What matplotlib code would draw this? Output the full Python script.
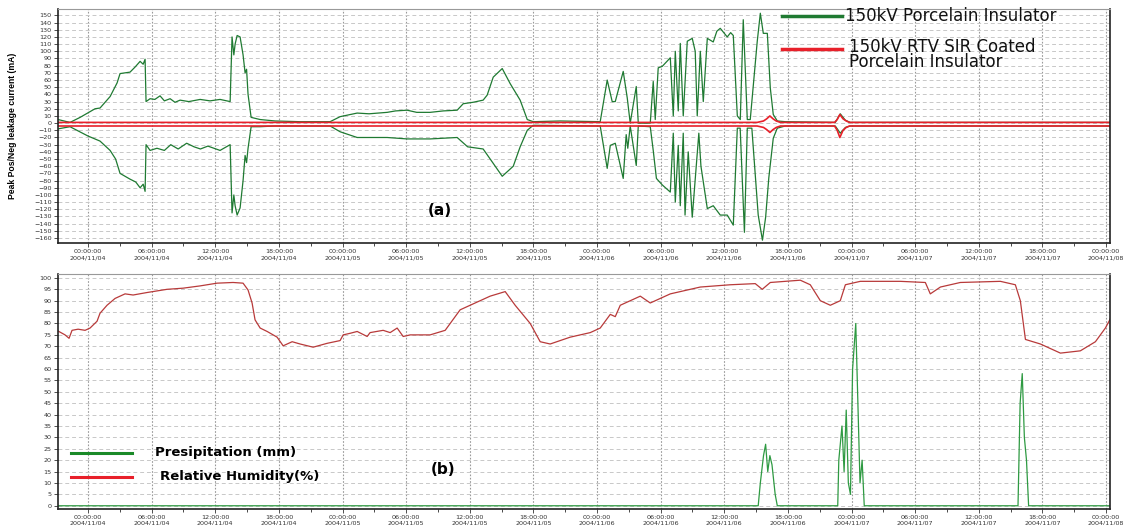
import matplotlib
matplotlib.use("Agg")
import matplotlib.pyplot as plt
import numpy as np
import pandas as pd
from matplotlib.ticker import MultipleLocator, FuncFormatter

# time in hours after 2004/11/04 00:00:00
start = pd.Timestamp("2004-11-04 00:00:00")

# (a) peak leakage current, 150kV porcelain insulator (mA)
t_por_pos = [-2.83, -1.7, -0.75, 0.66, 1.13, 2.08, 2.74, 3.02, 3.96, 4.43, 4.91, 5.2, 5.38, 5.47,
             5.85, 6.3, 6.79, 7.2, 7.74, 8.2, 8.68, 9.5, 10.57, 11.5, 12.45, 13.4, 13.58, 13.75,
             13.87, 14.06, 14.34, 14.62, 14.81, 14.95, 15.09, 15.38, 16.23, 17.64, 20.0, 22.83,
             23.77, 25.38, 26.5, 28.21, 29.0, 30.09, 31.0, 32.26, 33.5, 34.81, 35.38, 36.3, 37.26,
             37.64, 38.21, 39.06, 39.81, 40.75, 41.42, 41.98, 44.53, 48.3, 48.96, 49.43, 49.72,
             50.47, 50.85, 51.13, 51.7, 51.89, 53.02, 53.3, 53.49, 53.77, 54.15, 54.91, 55.19,
             55.38, 55.66, 55.85, 56.13, 56.51, 56.98, 57.26, 57.45, 57.74, 58.02, 58.4, 58.96,
             59.3, 59.62, 60.28, 60.6, 60.85, 61.23, 61.51, 61.79, 62.17, 62.45, 63.11, 63.4,
             63.68, 64.06, 64.34, 64.62, 65.0, 65.75, 70.47, 70.94, 71.42, 71.89, 96.4]
por_pos = [5, 1, 8, 20, 21, 37, 56, 69, 71, 78, 86, 82, 89, 30,
           34, 33, 38, 31, 34, 29, 32, 30, 33, 31, 33, 30, 120, 95,
           110, 122, 120, 95, 70, 75, 40, 8, 5, 3, 2, 2,
           9, 14, 13, 15, 17, 18, 15, 15, 17, 18, 27, 29, 32,
           39, 64, 76, 55, 32, 5, 2, 3, 2, 60, 30, 30,
           72, 35, 0, 51, 0, 0, 58, 5, 77, 79, 91, 10,
           100, 17, 111, 10, 114, 118, 100, 10, 100, 30, 118, 113,
           128, 132, 120, 126, 122, 10, 5, 144, 5, 5, 114, 153,
           125, 125, 49, 12, 3, 2, 1, 13, 4, 1, 1]

t_por_neg = [-2.83, -1.7, 0.0, 1.13, 2.08, 2.6, 3.02, 3.96, 4.5, 4.91, 5.2, 5.38, 5.47, 5.85,
             6.5, 7.2, 7.8, 8.5, 9.3, 10.0, 10.6, 11.3, 12.45, 13.4, 13.58, 13.75, 13.87, 14.06,
             14.34, 14.62, 14.81, 14.95, 15.09, 15.38, 16.23, 17.64, 22.83, 23.77, 25.38, 28.21,
             30.09, 32.26, 34.81, 35.8, 37.26, 38.21, 39.06, 40.1, 40.75, 41.42, 41.98, 48.3,
             48.96, 49.25, 49.72, 50.47, 50.75, 50.9, 51.13, 51.7, 51.89, 53.02, 53.3, 53.6,
             54.15, 54.91, 55.19, 55.38, 55.66, 55.85, 56.13, 56.3, 56.6, 56.98, 57.6, 57.8,
             58.4, 58.96, 59.62, 60.28, 60.85, 61.23, 61.5, 61.9, 62.17, 62.6, 63.2, 63.6, 63.9,
             64.2, 64.62, 65.0, 65.75, 70.47, 70.94, 71.42, 71.89, 96.4]
por_neg = [-8, -5, -18, -25, -38, -50, -70, -78, -82, -90, -85, -95, -30, -38,
           -35, -38, -30, -36, -28, -33, -36, -32, -38, -30, -125, -100, -115, -128,
           -118, -80, -45, -55, -35, -5, -5, -4, -4, -12, -20, -20,
           -22, -22, -20, -33, -36, -56, -74, -60, -33, -10, -3, -4,
           -63, -31, -28, -77, -16, -35, -4, -59, -4, -5, -38, -77,
           -86, -96, -14, -110, -31, -115, -14, -128, -40, -131, -14, -60,
           -119, -115, -128, -128, -142, -7, -7, -152, -7, -7, -128, -163, -131,
           -76, -21, -7, -4, -4, -14, -6, -4, -4]

# (a) 150kV RTV SIR coated porcelain insulator
t_rtv = [-2.83, 63.1, 63.7, 64.0, 64.3, 64.6, 64.9, 65.3, 70.4, 70.65, 70.9, 71.2, 71.5, 71.8, 96.4]
rtv_pos = [1, 1, 3, 6, 10, 6, 3, 1, 1, 5, 12, 6, 3, 1, 1]
rtv_neg = [-4, -4, -6, -9, -13, -9, -6, -4, -4, -10, -20, -10, -6, -4, -4]

# (b) relative humidity (%)
t_rh = [-2.83, -2.17, -1.79, -1.51, -0.94, -0.28, 0.19, 0.85, 1.13, 1.79, 2.55, 3.49, 4.25, 5.57,
        7.45, 8.96, 10.57, 12.17, 13.68, 14.62, 15.09, 15.47, 15.75, 16.23, 16.89, 17.83, 18.4,
        19.25, 20.0, 21.23, 22.55, 23.77, 24.06, 24.72, 25.38, 26.32, 26.6, 27.83, 28.49, 29.15,
        29.72, 30.38, 32.26, 33.68, 35.09, 37.92, 39.34, 40.28, 41.7, 42.64, 43.58, 45.47, 47.36,
        48.3, 49.25, 49.72, 50.19, 52.08, 53.02, 54.91, 57.74, 60.57, 62.92, 63.58, 64.34, 67.17,
        68.11, 69.06, 70.0, 70.94, 71.42, 72.83, 76.6, 78.96, 79.43, 80.38, 82.26, 86.04, 87.45,
        87.92, 88.4, 89.81, 91.7, 93.58, 95.0, 95.94, 96.4]
rh = [76.7, 75, 73.5, 77, 77.5, 77, 78, 81, 84.5, 88, 91, 93, 92.5, 93.6,
      95, 95.5, 96.5, 97.7, 98, 97.7, 94.7, 89, 81.6, 78, 76.5, 74, 70.2,
      72, 71, 69.6, 71.3, 72.5, 75, 75.7, 76.5, 74.3, 76, 77, 76, 78,
      74.3, 75, 75, 77, 86, 92, 94, 88, 80, 72, 71, 74, 76,
      78, 84, 83, 88, 92, 89, 93, 96, 97, 97.5, 95, 98, 99,
      97, 90, 88, 90, 97, 98.5, 98.5, 98, 93, 96, 98, 98.5, 97,
      90, 73, 71, 67, 68, 72, 78, 82]

# (b) precipitation (mm)
t_rain = [-2.83, 63.2, 63.4, 63.7, 63.9, 64.1, 64.3, 64.5, 64.8, 65.0, 70.7, 70.8, 71.1, 71.3,
          71.5, 71.7, 71.9, 72.1, 72.4, 72.6, 72.8, 73.0, 73.2, 87.7, 87.9, 88.1, 88.3, 88.5,
          88.7, 96.4]
rain = [0, 0, 10, 22, 27, 15, 22, 18, 5, 0, 0, 20, 35, 15,
        42, 10, 5, 60, 80, 45, 10, 20, 0, 0, 45, 58, 30, 20,
        0, 0]

GREEN = "#1f7a32"
RED = "#e8202a"


def fmt_time(h, pos):
    ts = start + pd.Timedelta(hours=h)
    return ts.strftime("%H:%M:%S\n%Y/%m/%d")


def style(ax, step):
    ax.set_xlim(-2.83, 96.4)
    ax.xaxis.set_major_locator(MultipleLocator(6))
    ax.xaxis.set_minor_locator(MultipleLocator(3))
    ax.xaxis.set_major_formatter(FuncFormatter(fmt_time))
    ax.yaxis.set_major_locator(MultipleLocator(step))
    ax.grid(axis="y", ls=(0, (4, 3)), color="#c8c8c8", lw=0.7)
    ax.grid(axis="x", ls=(0, (1.5, 1.5)), color="#9a9a9a", lw=0.8)
    ax.tick_params(axis="both", labelsize=4.6, colors="#333333", length=3, width=0.6, pad=1.5)
    ax.tick_params(axis="x", which="minor", length=2, width=0.5)
    for s in ["left", "bottom", "right"]:
        ax.spines[s].set_color("#222222")
        ax.spines[s].set_linewidth(1.2)
    ax.spines["top"].set_color("#999999")
    ax.spines["top"].set_linewidth(0.8)


fig = plt.figure(figsize=(11.29, 5.25), dpi=100)
ax1 = fig.add_axes([0.0514, 0.537, 0.932, 0.446])
ax2 = fig.add_axes([0.0514, 0.031, 0.932, 0.447])

# top panel
ax1.plot(t_por_pos, por_pos, color=GREEN, lw=0.9)
ax1.plot(t_por_neg, por_neg, color=GREEN, lw=0.9)
ax1.plot(t_rtv, rtv_pos, color=RED, lw=1.2)
ax1.plot(t_rtv, rtv_neg, color=RED, lw=1.2)
ax1.set_ylim(-167, 159)
style(ax1, 10)
ax1.set_ylabel("Peak Pos/Neg leakage current (mA)", fontsize=6.2, fontweight="bold",
               family=["Liberation Sans", "DejaVu Sans"], labelpad=12)
ax1.plot([0.688, 0.745], [0.97, 0.97], transform=ax1.transAxes, color=GREEN, lw=2.5,
         clip_on=False)
ax1.text(0.748, 0.97, "150kV Porcelain Insulator", transform=ax1.transAxes,
         fontsize=12, va="center", ha="left", color="#111111")
ax1.plot([0.688, 0.745], [0.83, 0.83], transform=ax1.transAxes, color=RED, lw=2.5)
ax1.text(0.752, 0.805, "150kV RTV SIR Coated\nPorcelain Insulator", transform=ax1.transAxes,
         fontsize=12, va="center", ha="left", color="#111111", linespacing=0.8)
ax1.text(0.363, 0.14, "(a)", transform=ax1.transAxes, fontsize=11, fontweight="bold",
         ha="center", va="center")

# bottom panel
ax2.plot(t_rain, rain, color="#2e9a42", lw=0.9)
ax2.plot(t_rh, rh, color="#b83a3a", lw=0.9)
ax2.set_ylim(-1.3, 101.7)
style(ax2, 5)
ax2.plot([0.012, 0.07], [0.236, 0.236], transform=ax2.transAxes, color="#1a8a28", lw=2.2)
ax2.text(0.092, 0.24, "Presipitation (mm)", transform=ax2.transAxes, fontsize=9.5,
         fontweight="bold", va="center", ha="left")
ax2.plot([0.012, 0.07], [0.136, 0.136], transform=ax2.transAxes, color=RED, lw=2.2)
ax2.text(0.097, 0.136, "Relative Humidity(%)", transform=ax2.transAxes, fontsize=9.5,
         fontweight="bold", va="center", ha="left")
ax2.text(0.366, 0.166, "(b)", transform=ax2.transAxes, fontsize=11, fontweight="bold",
         ha="center", va="center")

fig.savefig("out.png", dpi=100)
